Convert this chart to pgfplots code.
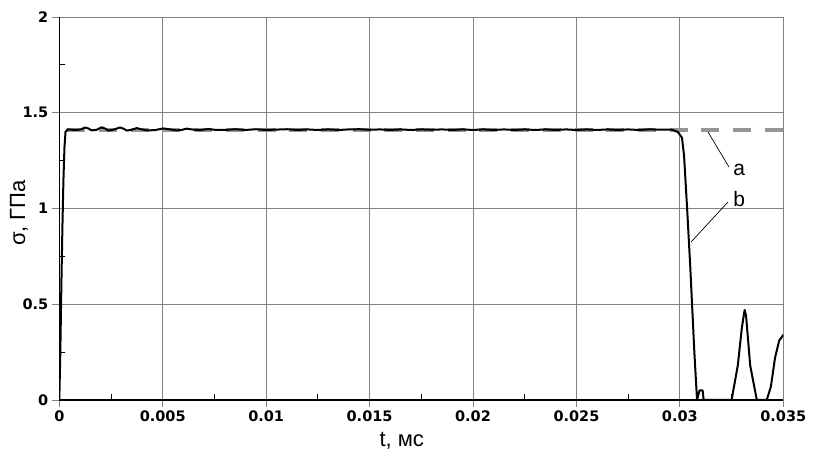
\documentclass[border=0pt]{standalone}
\usepackage{fontspec}
\setmainfont{Liberation Sans}
\newfontfamily\tickfont{DejaVu Sans}
\usepackage{pgfplots}
\pgfplotsset{compat=1.18}

\definecolor{gridc}{RGB}{130,130,130}
\definecolor{dashc}{RGB}{150,150,150}

\begin{document}
\begin{tikzpicture}[x=1pt,y=1pt]
\useasboundingbox (0,0) rectangle (814,458);
\begin{axis}[
  at={(59.3pt,58pt)}, anchor=south west,
  width=724pt, height=383pt, scale only axis,
  xmin=0, xmax=0.035, ymin=0, ymax=2,
  axis x line*=bottom, axis y line*=left,
  axis line style={black, line width=1.3pt},
  scaled x ticks=false, scaled y ticks=false,
  xtick={0,0.005,0.01,0.015,0.02,0.025,0.03,0.035},
  xticklabels={0,0.005,0.01,0.015,0.02,0.025,0.03,0.035},
  ytick={0,0.5,1,1.5,2},
  yticklabels={0,0.5,1,1.5,2},
  minor tick num=1,
  tick align=outside,
  major tick length=7pt,
  minor tick length=-6pt,
  xtick pos=bottom, ytick pos=left,
  major tick style={gridc, line width=0.9pt},
  minor tick style={black, line width=0.9pt},
  grid=major,
  major grid style={gridc, line width=0.9pt},
  /pgf/number format/assume math mode=true,
  ticklabel style={font=\tickfont\bfseries\fontsize{14.5}{14.5}\selectfont},
  xticklabel style={yshift=-0.5pt},
  yticklabel style={xshift=-0.5pt},
  xlabel={t, мс},
  ylabel={σ, ГПа},
  xlabel style={at={(axis description cs:0.473,-0.122)}, anchor=base,
    font=\fontsize{22}{22}\selectfont},
  ylabel style={at={(axis description cs:-0.0557,0.488)}, anchor=center,
    font=\fontsize{22}{22}\selectfont},
  clip=true,
]
% a: reference level
\addplot[dashc, line width=3.6pt, dash pattern=on 18pt off 13.7pt, dash phase=25.7pt]
  coordinates {(0.0001,1.41) (0.035,1.41)};
% b: computed stress
\addplot[black, line width=2pt, line join=round] coordinates {
  (0,0) (0.00005,0.25) (0.0001,0.6) (0.00015,0.9) (0.0002,1.15) (0.00025,1.32)
  (0.0003,1.40) (0.0004,1.413) (0.0008,1.41) (0.00105,1.413) (0.00124,1.423)
  (0.0014,1.418) (0.00157,1.408) (0.0018,1.411) (0.00205,1.424) (0.0022,1.418)
  (0.00237,1.407) (0.0026,1.411) (0.00294,1.423) (0.0031,1.417) (0.00326,1.407)
  (0.0035,1.411) (0.00374,1.42) (0.0039,1.415) (0.00423,1.408) (0.0046,1.409)
  (0.00503,1.418) (0.0053,1.414) (0.00568,1.408) (0.0059,1.41) (0.00616,1.417)
  (0.0064,1.413) (0.0068,1.409) (0.0072,1.415) (0.0076,1.41) (0.0080,1.41)
  (0.0085,1.414) (0.0090,1.41) (0.0095,1.414) (0.0100,1.41) (0.0105,1.412)
  (0.0110,1.414) (0.0115,1.41) (0.0120,1.413) (0.0125,1.41) (0.0130,1.413)
  (0.0135,1.41) (0.0140,1.413) (0.0145,1.414) (0.0150,1.411) (0.0155,1.413)
  (0.0160,1.41) (0.0165,1.413) (0.0170,1.41) (0.0175,1.413) (0.0180,1.411)
  (0.0185,1.413) (0.0190,1.41) (0.0195,1.413) (0.0200,1.41) (0.0205,1.413)
  (0.0210,1.41) (0.0215,1.413) (0.0220,1.41) (0.0225,1.413) (0.0230,1.41)
  (0.0235,1.413) (0.0240,1.41) (0.0245,1.413) (0.0250,1.41) (0.0255,1.413)
  (0.0260,1.41) (0.0265,1.413) (0.0270,1.41) (0.0275,1.413) (0.0280,1.41)
  (0.0285,1.413) (0.0290,1.412) (0.0296,1.412) (0.0299,1.40) (0.0301,1.37)
  (0.0302,1.28) (0.03035,1.0) (0.0305,0.70) (0.0307,0.25) (0.03083,0.0)
  (0.0309,0.03) (0.03095,0.05) (0.0311,0.05) (0.03115,0.0) (0.0325,0.0)
  (0.0328,0.18) (0.0330,0.38) (0.03313,0.47) (0.0332,0.44) (0.0334,0.18)
  (0.03372,0.0) (0.0342,0.0) (0.0344,0.07) (0.0346,0.22) (0.0348,0.31)
  (0.035,0.34)
};
\draw[black, line width=0.7pt] (axis cs:0.031359,1.3995) -- (axis cs:0.032374,1.2167);
\draw[black, line width=0.7pt] (axis cs:0.030540,0.825) -- (axis cs:0.032326,1.034);
\node[anchor=base, font=\fontsize{21}{21}\selectfont, inner sep=0pt] at (axis cs:0.032868,1.170) {a};
\node[anchor=base, font=\fontsize{21}{21}\selectfont, inner sep=0pt] at (axis cs:0.032868,1.013) {b};
\end{axis}
\end{tikzpicture}
\end{document}
